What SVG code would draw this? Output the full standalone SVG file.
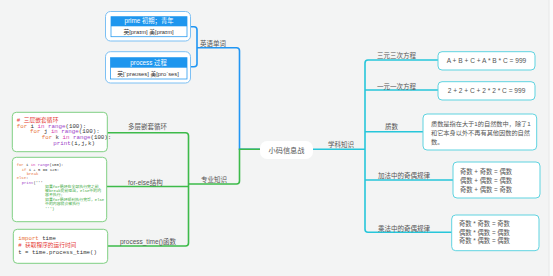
<svg xmlns="http://www.w3.org/2000/svg" width="553" height="276" viewBox="0 0 553 276">
<defs>
<style>
.bg{fill:#f3f4f4}
.lbl{font-family:"Liberation Sans","Noto Sans CJK SC",sans-serif;font-size:6.5px;fill:#555}
.txt{font-family:"Liberation Sans","Noto Sans CJK SC",sans-serif;fill:#555}
.code{font-family:"Liberation Mono","Noto Sans CJK SC",monospace;fill:#333}
.kw{fill:#e8743b}
.in{fill:#d63cae}
.bi{fill:#9b3cc8}
.cm{fill:#e53935}
.doc{fill:#3aa83a}
.gbox{fill:#fff;stroke:#7fcf82;stroke-width:1}
.cbox{fill:#fff;stroke:#5fd3e0;stroke-width:1}
.bbox{fill:#fff;stroke:#7cc0f4;stroke-width:1}
.bl{fill:none;stroke:#2196f3;stroke-width:1.6}
.gl{fill:none;stroke:#3dba4a;stroke-width:1.6}
.cl{fill:none;stroke:#26c6da;stroke-width:1.6}
</style>
</defs>
<rect class="bg" x="0" y="0" width="553" height="276"/>
<rect x="549" y="0" width="4" height="276" fill="#fbfbfb"/>
<line x1="549" y1="0" x2="549" y2="276" stroke="#e2e4e4" stroke-width="0.8"/>

<g id="connectors">
<path class="bl" d="M190.5,26.7 H194 Q197,26.7 197,29.7 V63.7 Q197,66.7 194,66.7 H190.5"/>
<path class="bl" d="M197,47.7 H236.5 Q239.5,47.7 239.5,50.7 V149.3 H260"/>
<path class="gl" d="M260,149.3 H239.5 V181 Q239.5,184 236.5,184 H188.5"/>
<path class="gl" d="M107.3,132.7 H185.5 Q188.5,132.7 188.5,135.7 V243 Q188.5,246 185.5,246 H107.7"/>
<path class="gl" d="M106.7,186.5 H188.5"/>
<path class="cl" d="M313,149.3 H365"/>
<path class="cl" d="M438,60 H368 Q365,60 365,63 V229.3 Q365,232.3 368,232.3 H452"/>
<path class="cl" d="M365,90 H438"/>
<path class="cl" d="M365,131.7 H423"/>
<path class="cl" d="M365,180 H453"/>
<text class="lbl" x="200" y="46.3">英语单词</text>
<text class="lbl" x="201" y="182.3">专业知识</text>
<text class="lbl" x="128" y="129">多层嵌套循环</text>
<text class="lbl" x="128" y="185">for-else结构</text>
<text class="lbl" x="120" y="244.3">process_time()函数</text>
<text class="lbl" x="328" y="146.5">学科知识</text>
<text class="lbl" x="377" y="58">三元三次方程</text>
<text class="lbl" x="377" y="89">一元一次方程</text>
<text class="lbl" x="385" y="129">质数</text>
<text class="lbl" x="378" y="178">加法中的奇偶规律</text>
<text class="lbl" x="378" y="230.6">乘法中的奇偶规律</text>
</g>

<g id="center">
<rect x="260" y="141" width="53" height="18" rx="7" fill="#fff"/>
<text class="txt" x="286.5" y="152.6" font-size="7.2" text-anchor="middle">小码信息战</text>
</g>

<g id="word-prime">
<rect class="bbox" x="105.5" y="11.5" width="85" height="29.5" rx="5"/>
<rect x="111" y="16.7" width="76" height="20" fill="#fff" stroke="#2a9cf0" stroke-width="0.8"/>
<rect x="111" y="16.7" width="76" height="9.6" fill="#1e96ee"/>
<text class="txt" x="149" y="23.3" font-size="6.3" text-anchor="middle" fill="#fff" style="fill:#fff">prime  初期；青年</text>
<text class="txt" x="148.5" y="33.8" font-size="5.8" text-anchor="middle" style="fill:#333">英[praɪm]   美[praɪm]</text>
</g>

<g id="word-process">
<rect class="bbox" x="105.5" y="51.7" width="85" height="31.3" rx="5"/>
<rect x="110.5" y="57.7" width="76.5" height="21.3" fill="#fff" stroke="#2a9cf0" stroke-width="0.8"/>
<rect x="110.5" y="57.7" width="76.5" height="10" fill="#1e96ee"/>
<text class="txt" x="148.5" y="64.9" font-size="6.3" text-anchor="middle" style="fill:#fff">process 过程</text>
<text class="txt" x="148" y="76" font-size="5.8" text-anchor="middle" style="fill:#333">英[ˈprəʊses]   美[proˈses]</text>
</g>

<g id="code-nested">
<rect class="gbox" x="12.3" y="112.3" width="95" height="39.4" rx="4"/>
<text class="code" font-size="5.8">
<tspan class="cm" x="16.7" y="121.8"># 三层嵌套循环</tspan>
<tspan x="16.7" y="127.6"><tspan class="kw">for</tspan> i <tspan class="in">in</tspan> <tspan class="bi">range</tspan>(100):</tspan>
<tspan x="30" y="133.4"><tspan class="kw">for</tspan> j <tspan class="in">in</tspan> <tspan class="bi">range</tspan>(100):</tspan>
<tspan x="41.7" y="139.2"><tspan class="kw">for</tspan> k <tspan class="in">in</tspan> <tspan class="bi">range</tspan>(100):</tspan>
<tspan x="53.3" y="145"><tspan class="bi">print</tspan>(i,j,k)</tspan>
</text>
</g>

<g id="code-forelse">
<rect class="gbox" x="12.3" y="157.3" width="94.4" height="64.4" rx="4"/>
<text class="code" font-size="3.9">
<tspan x="16.7" y="166.3"><tspan class="kw">for</tspan> i <tspan class="in">in</tspan> <tspan class="bi">range</tspan>(100):</tspan>
<tspan x="21.7" y="170.6"><tspan class="kw">if</tspan> i + 5 == 125:</tspan>
<tspan x="26.7" y="175"><tspan class="kw">break</tspan></tspan>
<tspan x="16.7" y="179.4"><tspan class="kw">else</tspan>:</tspan>
<tspan x="21.7" y="183.8"><tspan class="bi">print</tspan>('''</tspan>
<tspan class="doc" x="45" y="188">如果for循环在全部执行完之前,</tspan>
<tspan class="doc" x="45" y="192">被break提前退出，else中的内</tspan>
<tspan class="doc" x="45" y="196.3">容不执行;</tspan>
<tspan class="doc" x="45" y="200.5">如果for循环顺利执行完毕，else</tspan>
<tspan class="doc" x="45" y="204.7">中的内容就会被执行</tspan>
<tspan class="doc" x="45" y="209.5">''')</tspan>
</text>
</g>

<g id="code-time">
<rect class="gbox" x="13.3" y="229.3" width="94.4" height="34" rx="4"/>
<text class="code" font-size="5.7">
<tspan x="18.3" y="240.3"><tspan class="kw">import</tspan> time</tspan>
<tspan class="cm" x="18.3" y="247"># 获取程序的运行时间</tspan>
<tspan x="18.3" y="253.7">t = time.process_time()</tspan>
</text>
</g>

<g id="eq-three">
<rect class="cbox" x="438" y="51.7" width="97" height="18.3" rx="4"/>
<text class="txt" x="486.5" y="63.3" font-size="6.6" text-anchor="middle">A + B + C + A * B * C = 999</text>
</g>

<g id="eq-one">
<rect class="cbox" x="438" y="81.7" width="97" height="18.3" rx="4"/>
<text class="txt" x="486.5" y="93.3" font-size="6.6" text-anchor="middle">2 + 2 + C + 2 * 2 * C = 999</text>
</g>

<g id="prime">
<rect class="cbox" x="423" y="114" width="113.7" height="36" rx="4"/>
<text class="txt" font-size="6.2">
<tspan x="431" y="126.2">质数是指在大于1的自然数中，除了1</tspan>
<tspan x="431" y="135.4">和它本身以外不再有其他因数的自然</tspan>
<tspan x="431" y="144.4">数。</tspan>
</text>
</g>

<g id="add-parity">
<rect class="cbox" x="453" y="162" width="87" height="36" rx="4"/>
<text class="txt" font-size="6.3">
<tspan x="460" y="173.9">奇数 + 奇数 = 偶数</tspan>
<tspan x="460" y="182.5">偶数 + 偶数 = 偶数</tspan>
<tspan x="460" y="191.5">奇数 + 偶数 = 奇数</tspan>
</text>
</g>

<g id="mul-parity">
<rect class="cbox" x="451.7" y="215" width="87.3" height="35.7" rx="4"/>
<text class="txt" font-size="6.3">
<tspan x="459" y="226.2">奇数 * 奇数 = 奇数</tspan>
<tspan x="459" y="234.5">偶数 * 偶数 = 偶数</tspan>
<tspan x="459" y="243.2">奇数 * 偶数 = 偶数</tspan>
</text>
</g>
</svg>
